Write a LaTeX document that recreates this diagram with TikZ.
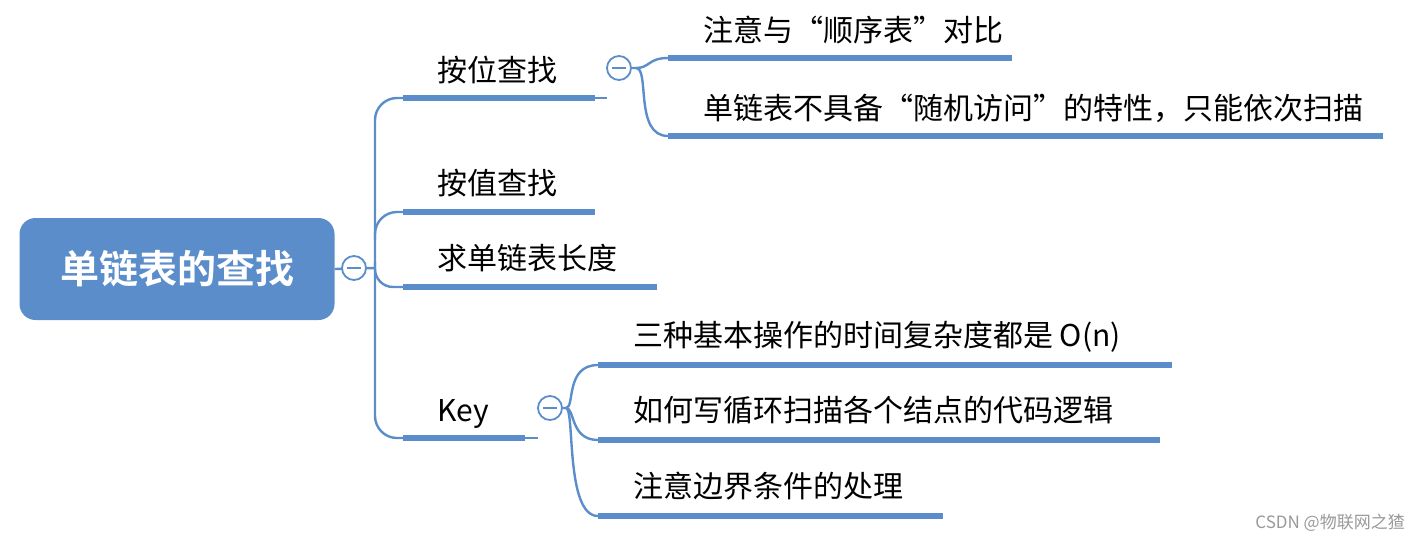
\documentclass[tikz,border=0pt]{standalone}
\usepackage{fontspec}
\setmainfont{Noto Sans CJK SC}
\newfontfamily\cjkb{Noto Sans CJK SC}[BoldFont={* Bold}]
\definecolor{mblue}{HTML}{5B8DCB}
\begin{document}
\begin{tikzpicture}[x=1pt,y=-1pt,
  ul/.style={line width=5.5pt,mblue},
  conn/.style={line width=2.4pt,mblue},
  lab/.style={anchor=base west,inner sep=0,font=\fontsize{30}{34}\selectfont},
  fold/.style={circle,draw=mblue,line width=1.8pt,fill=white,minimum size=24pt,inner sep=0}]
\useasboundingbox (0,0) rectangle (1420,541);
\node[fill=mblue,rounded corners=16pt,minimum width=315pt,minimum height=102pt,text=white,font=\cjkb\bfseries\fontsize{39}{44}\selectfont] (root) at (177,269) {单链表的查找};
% main branches
\coordinate (b1) at (403,98); \coordinate (b2) at (403,212);
\coordinate (b3) at (403,287); \coordinate (b4) at (403,438);
\draw[conn] (root.east) -- (375,268);
\draw[conn,rounded corners=22pt] (b1) -| (375,268) |- (b4);
\draw[conn,rounded corners=22pt] (375,240) |- (b2);
\draw[conn,rounded corners=18pt] (375,262) |- (b3);
\node[fold] (f0) at (354,268) {};
\draw[line width=1.8pt,mblue] (347,268) -- (361,268);
\draw[ul] (b1) -- (595,98) coordinate (e1);
\draw[ul] (b2) -- (595,212);
\draw[ul] (b3) -- (657,287);
\draw[ul] (b4) -- (525,438) coordinate (e4);
\node[lab] (t1) at (437,81) {按位查找};
\node[lab] (t2) at (437,194) {按值查找};
\node[lab] (t3) at (437,269) {求单链表长度};
\node[lab] (t4) at (437,421) {Key};
% sub of 按位查找
\draw[conn] (e1) -- (607,98);
\node[fold] (f1) at (619,68) {};
\draw[line width=1.8pt,mblue] (612,68) -- (626,68);
\coordinate (s1) at (668,58); \coordinate (s2) at (668,136);
\draw[conn] (f1.east) -- (636,68) .. controls (650,68) and (648,58) .. (s1);
\draw[conn] (636,68) .. controls (650,68) and (634,136) .. (s2);
\draw[ul] (s1) -- (1012,58);
\draw[ul] (s2) -- (1383,136);
\node[lab] at (703,41) {注意与“顺序表”对比};
\node[lab] at (703,119) {单链表不具备“随机访问”的特性，只能依次扫描};
% sub of Key
\draw[conn] (e4) -- (538,438);
\node[fold] (f2) at (550,408) {};
\draw[line width=1.8pt,mblue] (543,408) -- (557,408);
\coordinate (k1) at (598,365); \coordinate (k2) at (598,440); \coordinate (k3) at (598,516);
\draw[conn] (f2.east) -- (566,408) .. controls (575,408) and (565,365) .. (k1);
\draw[conn] (566,408) .. controls (575,408) and (570,440) .. (k2);
\draw[conn] (566,408) .. controls (575,408) and (565,516) .. (k3);
\draw[ul] (k1) -- (1172,365);
\draw[ul] (k2) -- (1160,440);
\draw[ul] (k3) -- (943,516);
\node[lab] at (633,346) {三种基本操作的时间复杂度都是 O(n)};
\node[lab] at (633,421) {如何写循环扫描各个结点的代码逻辑};
\node[lab] at (633,497) {注意边界条件的处理};
\node[anchor=base east,inner sep=0,text=gray!80,font=\fontsize{17}{20}\selectfont] (wm) at (1405,528) {CSDN @物联网之猹};
\end{tikzpicture}
\end{document}
